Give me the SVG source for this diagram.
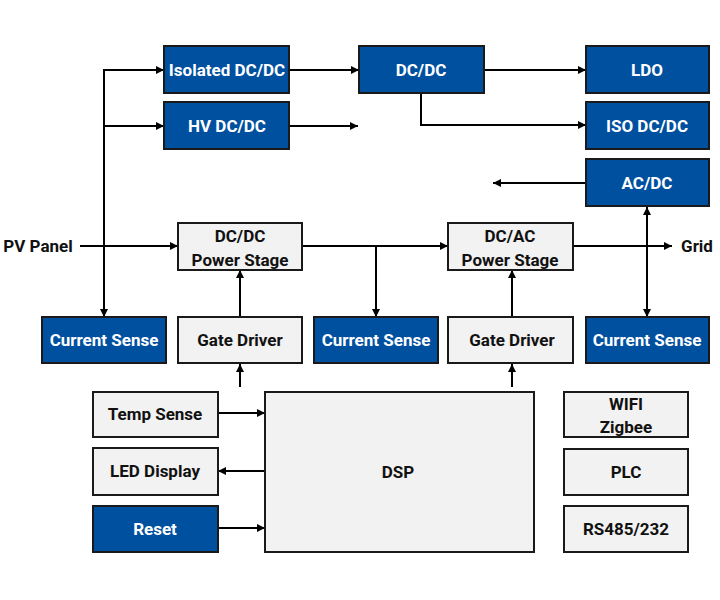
<svg xmlns="http://www.w3.org/2000/svg" width="720" height="600" viewBox="0 0 720 600">
<defs>
<marker id="ah" viewBox="0 0 10 10" refX="10" refY="5" markerWidth="8" markerHeight="8" markerUnits="userSpaceOnUse" orient="auto-start-reverse">
<path d="M0,0 L10,5 L0,10 z" fill="#000"/>
</marker>
<style>
.b rect{fill:#0050a0;stroke:#1a1a1a;stroke-width:2}
.g rect{fill:#f2f2f2;stroke:#1a1a1a;stroke-width:2}
text{font-family:Roboto,"Liberation Sans",Arial,sans-serif;font-weight:bold;font-size:17px;text-anchor:middle}
.b text{fill:#fff}
.g text,.lbl{fill:#111}
#conn path,#conn line{stroke:#000;stroke-width:2;fill:none}
</style>
</defs>
<rect width="720" height="600" fill="#fff"/>
<g id="conn">
<path d="M104,317 V70 H164" marker-end="url(#ah)" marker-start="url(#ah)"/>
<line x1="104" y1="126" x2="164" y2="126" marker-end="url(#ah)"/>
<line x1="289" y1="70" x2="359" y2="70" marker-end="url(#ah)"/>
<line x1="289" y1="126" x2="358" y2="126" marker-end="url(#ah)"/>
<line x1="484" y1="70" x2="586" y2="70" marker-end="url(#ah)"/>
<path d="M421,93 V125 H586" marker-end="url(#ah)"/>
<line x1="586" y1="183" x2="493" y2="183" marker-end="url(#ah)"/>
<line x1="647" y1="207" x2="647" y2="317" marker-end="url(#ah)" marker-start="url(#ah)"/>
<line x1="80" y1="246" x2="178" y2="246" marker-end="url(#ah)"/>
<line x1="302" y1="246" x2="448" y2="246" marker-end="url(#ah)"/>
<line x1="376" y1="246" x2="376" y2="317" marker-end="url(#ah)"/>
<line x1="573" y1="246" x2="672" y2="246" marker-end="url(#ah)"/>
<line x1="240" y1="317" x2="240" y2="270" marker-end="url(#ah)"/>
<line x1="512" y1="317" x2="512" y2="270" marker-end="url(#ah)"/>
<line x1="240" y1="387" x2="240" y2="364" marker-end="url(#ah)"/>
<line x1="512" y1="387" x2="512" y2="364" marker-end="url(#ah)"/>
<line x1="218" y1="413" x2="265" y2="413" marker-end="url(#ah)"/>
<line x1="265" y1="471" x2="218" y2="471" marker-end="url(#ah)"/>
<line x1="218" y1="528" x2="265" y2="528" marker-end="url(#ah)"/>
</g>
<text class="lbl" x="38" y="252">PV Panel</text>
<text class="lbl" x="697" y="252">Grid</text>
<g id="iso1" class="b"><rect x="164" y="46" width="125" height="47"/><text x="227" y="76">Isolated DC/DC</text></g>
<g id="hv" class="b"><rect x="164" y="102" width="125" height="47"/><text x="227" y="132">HV DC/DC</text></g>
<g id="dcdc" class="b"><rect x="359" y="46" width="125" height="47"/><text x="421" y="76">DC/DC</text></g>
<g id="ldo" class="b"><rect x="586" y="46" width="123" height="47"/><text x="647" y="76">LDO</text></g>
<g id="isodcdc" class="b"><rect x="586" y="102" width="123" height="47"/><text x="647" y="132">ISO DC/DC</text></g>
<g id="acdc" class="b"><rect x="586" y="159" width="123" height="47"/><text x="647" y="189">AC/DC</text></g>
<g id="dcdcps" class="g"><rect x="178" y="223" width="124" height="47"/><text x="240" y="242">DC/DC</text><text x="240" y="266">Power Stage</text></g>
<g id="dcacps" class="g"><rect x="448" y="223" width="125" height="47"/><text x="510" y="242">DC/AC</text><text x="510" y="266">Power Stage</text></g>
<g id="cs1" class="b"><rect x="42" y="317" width="124" height="46"/><text x="104" y="346">Current Sense</text></g>
<g id="gd1" class="g"><rect x="178" y="317" width="124" height="46"/><text x="240" y="346">Gate Driver</text></g>
<g id="cs2" class="b"><rect x="314" y="317" width="124" height="46"/><text x="376" y="346">Current Sense</text></g>
<g id="gd2" class="g"><rect x="448" y="317" width="125" height="46"/><text x="512" y="346">Gate Driver</text></g>
<g id="cs3" class="b"><rect x="586" y="317" width="123" height="46"/><text x="647" y="346">Current Sense</text></g>
<g id="temp" class="g"><rect x="93" y="392" width="125" height="45"/><text x="155" y="420">Temp Sense</text></g>
<g id="led" class="g"><rect x="93" y="448" width="125" height="47"/><text x="155" y="477">LED Display</text></g>
<g id="reset" class="b"><rect x="93" y="506" width="125" height="46"/><text x="155" y="535">Reset</text></g>
<g id="dsp" class="g"><rect x="265" y="392" width="269" height="160"/><text x="398" y="478">DSP</text></g>
<g id="wifi" class="g"><rect x="564" y="392" width="124" height="45"/><text x="626" y="410">WIFI</text><text x="626" y="433">Zigbee</text></g>
<g id="plc" class="g"><rect x="564" y="449" width="124" height="46"/><text x="626" y="478">PLC</text></g>
<g id="rs" class="g"><rect x="564" y="506" width="124" height="46"/><text x="626" y="535">RS485/232</text></g>
</svg>
